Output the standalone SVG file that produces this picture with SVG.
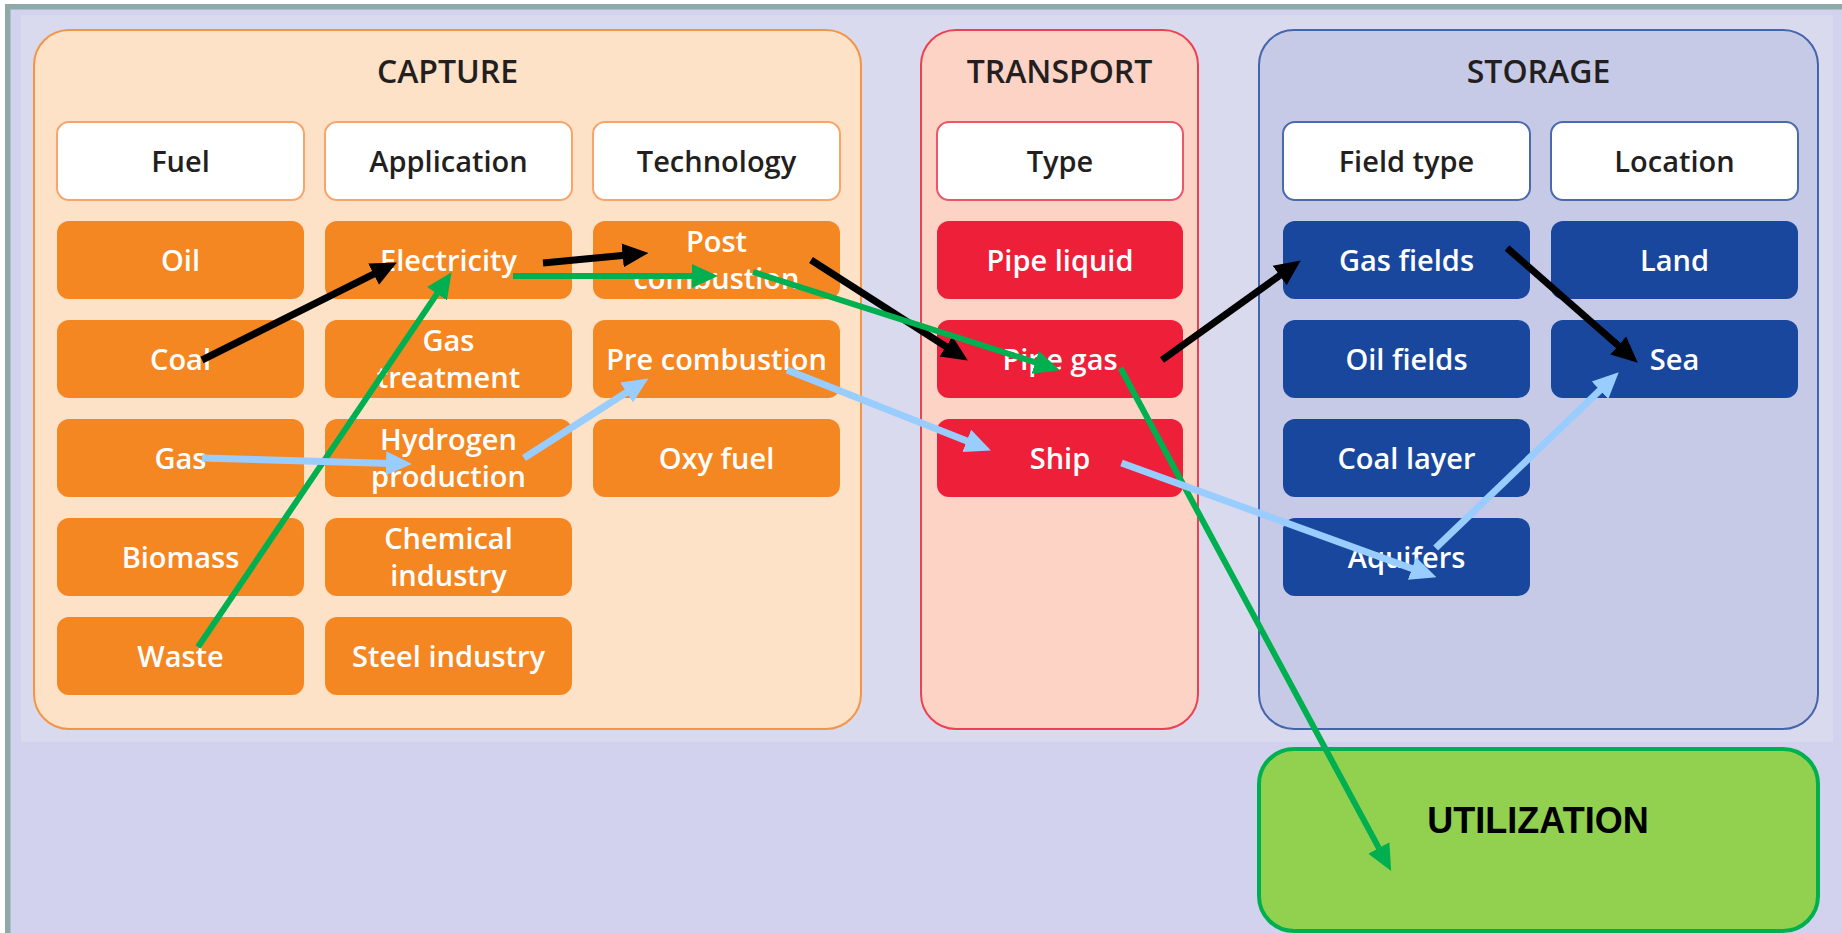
<svg xmlns="http://www.w3.org/2000/svg" width="1842" height="933" viewBox="0 0 1842 933">
  <defs>
    <style>
      .title { font-family: "Open Sans", "Liberation Sans", sans-serif; font-size: 32px; font-weight: 600; fill: #231F20; text-anchor: middle; }
      .lbl { font-family: "Open Sans", "Liberation Sans", sans-serif; font-size: 29px; font-weight: 600; text-anchor: middle; }
      .hdr rect { fill: #FFFFFF; stroke-width: 2; }
      .hdr text { fill: #231F20; }
      .item text { fill: #FFFFFF; }
      .cap .hdr rect { stroke: #F8A46A; }
      .cap .item rect { fill: #F58722; }
      .trn .hdr rect { stroke: #EE5566; }
      .trn .item rect { fill: #EE1F39; }
      .sto .hdr rect { stroke: #4A69AE; }
      .sto .item rect { fill: #18479D; }
      .conn line { fill: none; stroke-linecap: butt; }
      .k { stroke: #000000; stroke-width: 7; marker-end: url(#ah-k); }
      .g { stroke: #00B050; stroke-width: 6; marker-end: url(#ah-g); }
      .b { stroke: #99CCFF; stroke-width: 7; marker-end: url(#ah-b); }
    </style>
    <marker id="ah-k" markerUnits="userSpaceOnUse" viewBox="0 0 26 26" markerWidth="26" markerHeight="26" refX="5" refY="13" orient="auto">
      <path d="M0,1 L26,13 L0,25 z" fill="#000000"/>
    </marker>
    <marker id="ah-g" markerUnits="userSpaceOnUse" viewBox="0 0 26 26" markerWidth="26" markerHeight="26" refX="5" refY="13" orient="auto">
      <path d="M0,1 L26,13 L0,25 z" fill="#00B050"/>
    </marker>
    <marker id="ah-b" markerUnits="userSpaceOnUse" viewBox="0 0 26 26" markerWidth="26" markerHeight="26" refX="5" refY="13" orient="auto">
      <path d="M0,1 L26,13 L0,25 z" fill="#99CCFF"/>
    </marker>
  </defs>

  <!-- background and frame -->
  <rect x="0" y="0" width="1842" height="933" fill="#FFFFFF"/>
  <rect x="5" y="4" width="1837" height="929" fill="#8FA9A9"/>
  <rect x="10.5" y="9.5" width="1831.5" height="923.5" fill="#D2D2EF"/>
  <rect x="21" y="15" width="1812" height="727" fill="#DADAEE"/>

  <!-- CAPTURE -->
  <g id="capture" class="cap">
    <rect x="34" y="30" width="827" height="699" rx="35" fill="#FDE2C7" stroke="#F49447" stroke-width="2"/>
    <text class="title" x="447.5" y="83">CAPTURE</text>
    <g id="hdr-fuel" class="hdr"><rect x="57" y="122" width="247" height="78" rx="12"/><text class="lbl" x="180.5" y="172">Fuel</text></g>
    <g id="hdr-application" class="hdr"><rect x="325" y="122" width="247" height="78" rx="12"/><text class="lbl" x="448.5" y="172">Application</text></g>
    <g id="hdr-technology" class="hdr"><rect x="593" y="122" width="247" height="78" rx="12"/><text class="lbl" x="716.5" y="172">Technology</text></g>

    <g id="oil" class="item"><rect x="57" y="221" width="247" height="78" rx="12"/><text class="lbl" x="180.5" y="270.5">Oil</text></g>
    <g id="coal" class="item"><rect x="57" y="320" width="247" height="78" rx="12"/><text class="lbl" x="180.5" y="369.5">Coal</text></g>
    <g id="gas" class="item"><rect x="57" y="419" width="247" height="78" rx="12"/><text class="lbl" x="180.5" y="468.5">Gas</text></g>
    <g id="biomass" class="item"><rect x="57" y="518" width="247" height="78" rx="12"/><text class="lbl" x="180.5" y="567.5">Biomass</text></g>
    <g id="waste" class="item"><rect x="57" y="617" width="247" height="78" rx="12"/><text class="lbl" x="180.5" y="666.5">Waste</text></g>

    <g id="electricity" class="item"><rect x="325" y="221" width="247" height="78" rx="12"/><text class="lbl" x="448.5" y="270.5">Electricity</text></g>
    <g id="gas-treatment" class="item"><rect x="325" y="320" width="247" height="78" rx="12"/><text class="lbl" x="448.5" y="350.5">Gas</text><text class="lbl" x="448.5" y="387.5">treatment</text></g>
    <g id="hydrogen-production" class="item"><rect x="325" y="419" width="247" height="78" rx="12"/><text class="lbl" x="448.5" y="449.5">Hydrogen</text><text class="lbl" x="448.5" y="486.5">production</text></g>
    <g id="chemical-industry" class="item"><rect x="325" y="518" width="247" height="78" rx="12"/><text class="lbl" x="448.5" y="548.5">Chemical</text><text class="lbl" x="448.5" y="585.5">industry</text></g>
    <g id="steel-industry" class="item"><rect x="325" y="617" width="247" height="78" rx="12"/><text class="lbl" x="448.5" y="666.5">Steel industry</text></g>

    <g id="post-combustion" class="item"><rect x="593" y="221" width="247" height="78" rx="12"/><text class="lbl" x="716.5" y="251.5">Post</text><text class="lbl" x="716.5" y="288.5">combustion</text></g>
    <g id="pre-combustion" class="item"><rect x="593" y="320" width="247" height="78" rx="12"/><text class="lbl" x="716.5" y="369.5">Pre combustion</text></g>
    <g id="oxy-fuel" class="item"><rect x="593" y="419" width="247" height="78" rx="12"/><text class="lbl" x="716.5" y="468.5">Oxy fuel</text></g>
  </g>

  <!-- TRANSPORT -->
  <g id="transport" class="trn">
    <rect x="921" y="30" width="277" height="699" rx="35" fill="#FDD3C6" stroke="#EE4050" stroke-width="2"/>
    <text class="title" x="1059.5" y="83">TRANSPORT</text>
    <g id="hdr-type" class="hdr"><rect x="937" y="122" width="246" height="78" rx="12"/><text class="lbl" x="1060" y="172">Type</text></g>
    <g id="pipe-liquid" class="item"><rect x="937" y="221" width="246" height="78" rx="12"/><text class="lbl" x="1060" y="270.5">Pipe liquid</text></g>
    <g id="pipe-gas" class="item"><rect x="937" y="320" width="246" height="78" rx="12"/><text class="lbl" x="1060" y="369.5">Pipe gas</text></g>
    <g id="ship" class="item"><rect x="937" y="419" width="246" height="78" rx="12"/><text class="lbl" x="1060" y="468.5">Ship</text></g>
  </g>

  <!-- STORAGE -->
  <g id="storage" class="sto">
    <rect x="1259" y="30" width="559" height="699" rx="35" fill="#C6CAE6" stroke="#4464AC" stroke-width="2"/>
    <text class="title" x="1538.5" y="83">STORAGE</text>
    <g id="hdr-field-type" class="hdr"><rect x="1283" y="122" width="247" height="78" rx="12"/><text class="lbl" x="1406.5" y="172">Field type</text></g>
    <g id="hdr-location" class="hdr"><rect x="1551" y="122" width="247" height="78" rx="12"/><text class="lbl" x="1674.5" y="172">Location</text></g>
    <g id="gas-fields" class="item"><rect x="1283" y="221" width="247" height="78" rx="12"/><text class="lbl" x="1406.5" y="270.5">Gas fields</text></g>
    <g id="oil-fields" class="item"><rect x="1283" y="320" width="247" height="78" rx="12"/><text class="lbl" x="1406.5" y="369.5">Oil fields</text></g>
    <g id="coal-layer" class="item"><rect x="1283" y="419" width="247" height="78" rx="12"/><text class="lbl" x="1406.5" y="468.5">Coal layer</text></g>
    <g id="aquifers" class="item"><rect x="1283" y="518" width="247" height="78" rx="12"/><text class="lbl" x="1406.5" y="567.5">Aquifers</text></g>
    <g id="land" class="item"><rect x="1551" y="221" width="247" height="78" rx="12"/><text class="lbl" x="1674.5" y="270.5">Land</text></g>
    <g id="sea" class="item"><rect x="1551" y="320" width="247" height="78" rx="12"/><text class="lbl" x="1674.5" y="369.5">Sea</text></g>
  </g>

  <!-- UTILIZATION -->
  <g id="utilization">
    <rect x="1259" y="749" width="559" height="182" rx="35" fill="#92D050" stroke="#00B050" stroke-width="4"/>
    <text x="1538" y="833" font-family="'Liberation Sans', Arial, sans-serif" font-size="36" font-weight="bold" fill="#000000" text-anchor="middle">UTILIZATION</text>
  </g>

  <!-- connectors -->
  <g id="connectors" class="conn">
    <!-- black chain -->
    <line class="k" x1="202" y1="360" x2="378.1" y2="271.9"/>
    <line class="k" x1="543" y1="263" x2="627.6" y2="254.9"/>
    <line class="k" x1="811" y1="260" x2="950.2" y2="349.2"/>
    <line class="k" x1="1162" y1="360" x2="1283.7" y2="272.7"/>
    <line class="k" x1="1507" y1="248" x2="1622" y2="348.8"/>
    <!-- green chain -->
    <line class="g" x1="198" y1="647" x2="439.8" y2="289.6"/>
    <line class="g" x1="513" y1="276" x2="697" y2="276"/>
    <line class="g" x1="753" y1="272" x2="1040" y2="363.9"/>
    <line class="g" x1="1120.5" y1="368" x2="1381.2" y2="852.4"/>
    <!-- blue chain -->
    <line class="b" x1="202" y1="458" x2="391" y2="463.4"/>
    <line class="b" x1="524" y1="458" x2="630.7" y2="389.8"/>
    <line class="b" x1="787" y1="370" x2="971.4" y2="442.7"/>
    <line class="b" x1="1121.5" y1="463" x2="1416.7" y2="570.2"/>
    <line class="b" x1="1435.6" y1="548" x2="1603.6" y2="386.8"/>
  </g>
</svg>
